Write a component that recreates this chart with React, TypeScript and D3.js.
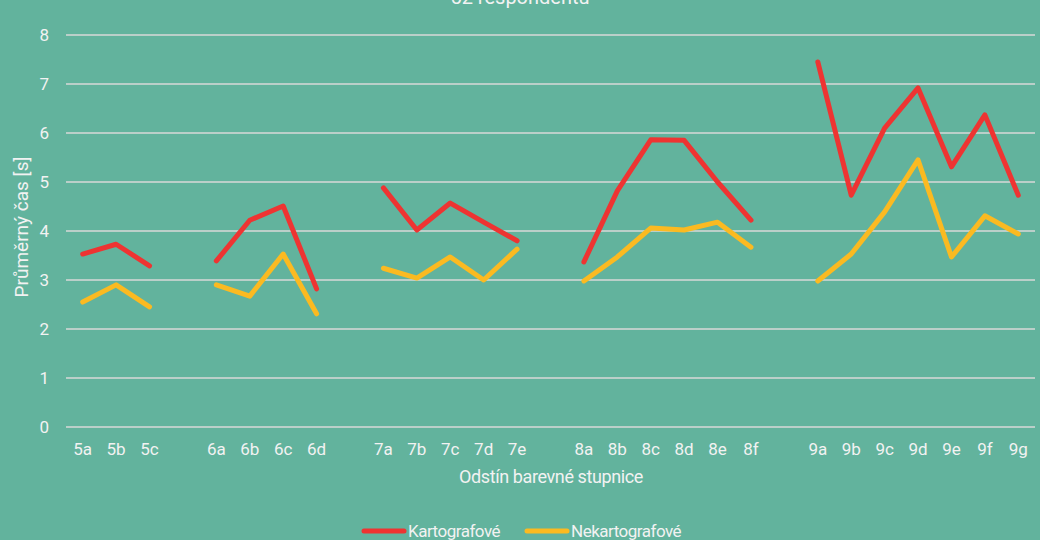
import { useEffect, useRef } from "react";
import * as d3 from "d3";

// empty strings are the gaps between shade groups
const categories = [
  "5a", "5b", "5c", "",
  "6a", "6b", "6c", "6d", " ",
  "7a", "7b", "7c", "7d", "7e", "  ",
  "8a", "8b", "8c", "8d", "8e", "8f", "   ",
  "9a", "9b", "9c", "9d", "9e", "9f", "9g",
];
const groups = [
  ["5a", "5b", "5c"],
  ["6a", "6b", "6c", "6d"],
  ["7a", "7b", "7c", "7d", "7e"],
  ["8a", "8b", "8c", "8d", "8e", "8f"],
  ["9a", "9b", "9c", "9d", "9e", "9f", "9g"],
];
const kartografove = [
  3.53, 3.73, 3.29,
  3.39, 4.22, 4.51, 2.82,
  4.88, 4.02, 4.57, 4.18, 3.8,
  3.37, 4.82, 5.86, 5.85, 5.0, 4.22,
  7.45, 4.73, 6.1, 6.92, 5.31, 6.37, 4.73,
];
const nekartografove = [
  2.55, 2.9, 2.45,
  2.9, 2.67, 3.53, 2.31,
  3.24, 3.04, 3.47, 3.0, 3.63,
  2.98, 3.47, 4.06, 4.02, 4.18, 3.67,
  2.98, 3.53, 4.39, 5.45, 3.47, 4.31, 3.94,
];
const yTicks = [0, 1, 2, 3, 4, 5, 6, 7, 8];
const seriesNames = ["Kartografové", "Nekartografové"];
const seriesColors = ["#EE3432", "#FBBA21"];

const W = 1040;
const H = 540;
const FONT = "Roboto, 'Noto Sans', sans-serif";
const TEXT = "#F2F2F2";

export default function App() {
  const ref = useRef<SVGSVGElement | null>(null);

  useEffect(() => {
    const svg = d3.select(ref.current);
    svg.selectAll("*").remove();

    const x = d3.scaleBand().domain(categories).range([66, 1035]);
    const y = d3.scaleLinear().domain([0, 8]).range([427, 35]);

    svg.append("rect").attr("width", W).attr("height", H).attr("fill", "#62B39D");

    // title sits partly above the top edge, as in the source
    svg
      .append("text")
      .attr("x", 520)
      .attr("y", 4)
      .attr("text-anchor", "middle")
      .attr("font-family", FONT)
      .attr("font-size", 20)
      .attr("fill", TEXT)
      .text("52 respondentů");

    // grid
    svg
      .append("g")
      .selectAll("line")
      .data(yTicks)
      .join("line")
      .attr("x1", 66)
      .attr("x2", 1035)
      .attr("y1", (d) => y(d))
      .attr("y2", (d) => y(d))
      .attr("stroke", "#D9D9D9")
      .attr("stroke-width", 1.5);

    svg
      .append("g")
      .selectAll("text")
      .data(yTicks)
      .join("text")
      .attr("x", 49)
      .attr("y", (d) => y(d))
      .attr("dy", "0.35em")
      .attr("text-anchor", "end")
      .attr("font-family", FONT)
      .attr("font-size", 17)
      .attr("fill", TEXT)
      .text((d) => d);

    svg
      .append("g")
      .selectAll("text")
      .data(categories.filter((c) => c.trim() !== ""))
      .join("text")
      .attr("x", (d) => x(d)! + x.bandwidth() / 2)
      .attr("y", 455)
      .attr("text-anchor", "middle")
      .attr("font-family", FONT)
      .attr("font-size", 17)
      .attr("fill", TEXT)
      .text((d) => d);

    svg
      .append("text")
      .attr("transform", "translate(28,227) rotate(-90)")
      .attr("text-anchor", "middle")
      .attr("font-family", FONT)
      .attr("font-size", 19)
      .attr("fill", TEXT)
      .text("Průměrný čas [s]");

    svg
      .append("text")
      .attr("x", 551)
      .attr("y", 483)
      .attr("text-anchor", "middle")
      .attr("font-family", FONT)
      .attr("font-size", 18)
      .attr("letter-spacing", "-0.4")
      .attr("fill", TEXT)
      .text("Odstín barevné stupnice");

    const line = d3
      .line<[string, number]>()
      .x((d) => x(d[0])! + x.bandwidth() / 2)
      .y((d) => y(d[1]));

    [kartografove, nekartografove].forEach((vals, si) => {
      let i = 0;
      groups.forEach((g) => {
        const pts = g.map((c) => [c, vals[i++]] as [string, number]);
        svg
          .append("path")
          .datum(pts)
          .attr("fill", "none")
          .attr("stroke", seriesColors[si])
          .attr("stroke-width", 5)
          .attr("stroke-linecap", "round")
          .attr("stroke-linejoin", "round")
          .attr("d", line);
      });
    });

    // legend
    const legendX = [362, 525];
    seriesNames.forEach((name, i) => {
      svg
        .append("line")
        .attr("x1", legendX[i] + 2)
        .attr("x2", legendX[i] + 42)
        .attr("y1", 531)
        .attr("y2", 531)
        .attr("stroke", seriesColors[i])
        .attr("stroke-width", 5)
        .attr("stroke-linecap", "round");
      svg
        .append("text")
        .attr("x", legendX[i] + 46)
        .attr("y", 537)
        .attr("font-family", FONT)
        .attr("font-size", 17)
        .attr("letter-spacing", "-0.5")
        .attr("fill", TEXT)
        .text(name);
    });
  }, []);

  return (
    <svg
      ref={ref}
      width={W}
      height={H}
      style={{ position: "absolute", left: 0, top: 0, display: "block" }}
    />
  );
}
